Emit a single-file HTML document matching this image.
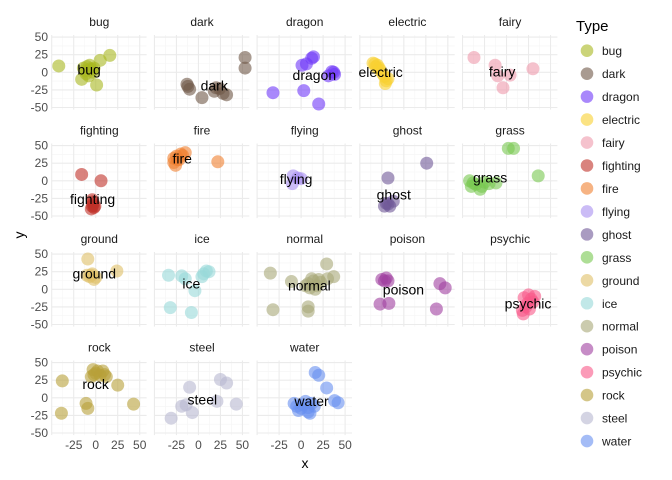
<!DOCTYPE html>
<html><head><meta charset="utf-8"><style>
body{margin:0;background:#fff}
svg{display:block;font-family:"Liberation Sans",sans-serif}
</style></head><body>
<svg id="chart" width="672" height="480"></svg>
<script>
const types=["bug","dark","dragon","electric","fairy","fighting","fire","flying","ghost","grass","ground","ice","normal","poison","psychic","rock","steel","water"];
const colors=["#A8B820","#705848","#7038F8","#F8D030","#EE99AC","#C03028","#F08030","#A890F0","#705898","#78C850","#E0C068","#98D8D8","#A8A878","#A040A0","#F85888","#B8A038","#B8B8D0","#6890F0"];
const bug=[[-42,9],[16,24],[5,17],[-10,8],[-6,5],[-12,2],[-3,0],[-16,-10],[1,-18],[-8,-5],[-14,6],[-7,10],[-4,4],[-11,-2],[-2,6]];
const dark=[[-13,-17],[-10,-24],[4,-36],[18,-27],[24,-23],[28,-30],[32,-32],[53,21],[53,6],[20,-22],[-12,-20]];
const dragon=[[-32,-29],[1,10],[6,12],[12,20],[3,-26],[20,-45],[35,1],[38,-3],[31,-5],[14,22],[37,0]];
const electric=[[-35,13],[-32,8],[-27,3],[-24,-2],[-21,-16],[-18,-9],[-30,10],[-22,-6],[-33,12],[-28,6],[-20,-12]];
const fairy=[[-37,21],[-13,10],[-10,-5],[4,-4],[-4,-22],[30,5]];
const fighting=[[-16,9],[6,0],[-4,-27],[-3,-33],[-2,-38],[-5,-40],[-1,-36],[-3,-30],[-4,-36]];
const fire=[[-28,26],[-25,35],[-20,38],[-15,40],[-22,30],[-26,22],[22,27],[-18,36],[-24,30],[-28,32]];
const flying=[[-9,7],[-4,4],[0,3],[-10,-4]];
const ghost=[[26,25],[-18,4],[-20,-32],[-12,-29],[-16,-36],[-22,-36],[-18,-33]];
const grass=[[2,46],[8,46],[36,7],[-42,0],[-35,-5],[-28,-8],[-20,-4],[-12,-3],[-30,-12],[-38,-3],[-25,-2],[-40,-8]];
const ground=[[-9,43],[24,26],[-10,20],[-4,22],[0,17],[-2,14],[-7,18],[-5,20]];
const ice=[[-34,20],[-19,19],[-15,15],[-4,-2],[4,18],[9,26],[12,25],[-32,-26],[-8,-33],[6,22]];
const normal=[[-35,23],[-11,11],[29,36],[8,8],[14,12],[18,5],[22,10],[10,2],[8,-25],[8,-31],[-32,-29],[37,18],[30,15],[12,15],[20,14],[16,0],[5,5]];
const poison=[[-25,14],[-20,16],[-18,12],[-27,-21],[-17,-20],[41,8],[47,2],[37,-28],[-22,12]];
const psychic=[[20,-12],[25,-8],[32,-10],[30,-18],[22,-25],[18,-30],[19,-35],[26,-28],[28,-14],[24,-20]];
const rock=[[-38,24],[-39,-22],[-11,-8],[-9,-15],[25,18],[43,-9],[-3,40],[0,35],[5,32],[10,33],[-5,30],[8,38],[2,38],[12,30],[-2,33]];
const steel=[[-10,15],[-19,-12],[-14,-10],[-7,-21],[-31,-29],[21,-5],[25,26],[32,21],[43,-9]];
const water=[[16,36],[20,32],[29,14],[38,-4],[42,-7],[-8,-8],[0,-15],[8,-20],[15,-12],[5,-5],[-3,-18],[12,-8],[2,-10],[8,-14],[-5,-12],[10,-22]];
const seriesData=[bug,dark,dragon,electric,fairy,fighting,fire,flying,ghost,grass,ground,ice,normal,poison,psychic,rock,steel,water];
const xTicks=[-25,0,25,50];
const yTicks=[-50,-25,0,25,50];
const xMinor=[-37.5,-12.5,12.5,37.5];
const yMinor=[-37.5,-12.5,12.5,37.5];

const NS="http://www.w3.org/2000/svg";
const svg=document.getElementById('chart');
function el(tag,attrs,parent,text){const e=document.createElementNS(NS,tag);for(const k in attrs)e.setAttribute(k,attrs[k]);if(text!==undefined)e.textContent=text;(parent||svg).appendChild(e);return e;}
const X0=52,XSTEP=102.7,PW=94.6,Y0=35,YSTEP=108.5,PH=74.6;
const XD=[-49.7,57.8],YD=[-53,53];
function sx(c,v){return X0+c*XSTEP+(v-XD[0])/(XD[1]-XD[0])*PW;}
function sy(r,v){return Y0+r*YSTEP+PH-(v-YD[0])/(YD[1]-YD[0])*PH;}

types.forEach((t,i)=>{
  const c=i%5,r=Math.floor(i/5);
  const g=el('g',{},svg);
  
  
  const l=X0+c*XSTEP,tp=Y0+r*YSTEP;
  xMinor.forEach(v=>el('line',{x1:sx(c,v),x2:sx(c,v),y1:tp,y2:tp+PH,stroke:'#f5f5f5','stroke-width':0.6},g));
  yMinor.forEach(v=>el('line',{x1:l,x2:l+PW,y1:sy(r,v),y2:sy(r,v),stroke:'#f5f5f5','stroke-width':0.6},g));
  [-50].concat(xTicks).forEach(v=>el('line',{x1:sx(c,v),x2:sx(c,v),y1:tp,y2:tp+PH,stroke:'#ebebeb','stroke-width':1.1},g));
  yTicks.forEach(v=>el('line',{x1:l,x2:l+PW,y1:sy(r,v),y2:sy(r,v),stroke:'#ebebeb','stroke-width':1.1},g));
  const st=el('text',{x:l+PW/2,y:tp-9,'text-anchor':'middle','font-size':12,fill:'#1a1a1a'},g,t);
  
  
  const pts=seriesData[i];
  let mx=0,my=0;
  pts.forEach(p=>{
    const cc=el('circle',{cx:sx(c,p[0]),cy:sy(r,p[1]),r:6.5,fill:colors[i],'fill-opacity':0.6},g);
    
    
    mx+=p[0];my+=p[1];
  });
  mx/=pts.length;my/=pts.length;
  const lb=el('text',{x:sx(c,mx),y:sy(r,my)+5,'text-anchor':'middle','font-size':14,fill:'#000'},g,t);
  
  
  if(c===0){yTicks.forEach(v=>{const tx=el('text',{x:48,y:sy(r,v)+4,'text-anchor':'end','font-size':12,fill:'#4d4d4d'},g,v);
    
    });}
  if(r===3){xTicks.forEach(v=>{const tx=el('text',{x:sx(c,v),y:tp+PH+14,'text-anchor':'middle','font-size':12,fill:'#4d4d4d'},g,v);
    
    });}
});
const xt=el('text',{x:305,y:468,'text-anchor':'middle','font-size':14,fill:'#000'},svg,'x');


const yt=el('text',{x:24,y:235,'text-anchor':'middle','font-size':14,fill:'#000',transform:'rotate(-90 24 235)'},svg,'y');


const lg=el('g',{},svg);


el('text',{x:576,y:31,'font-size':15,fill:'#000'},lg,'Type');
types.forEach((t,i)=>{
  const y=50.7+i*22.96;
  const e=el('g',{},lg);
  
  
  el('circle',{cx:587,cy:y,r:6.3,fill:colors[i],'fill-opacity':0.6},e);
  el('text',{x:602,y:y+4.5,'font-size':12,fill:'#1a1a1a'},e,t);
});
</script>
</body></html>
